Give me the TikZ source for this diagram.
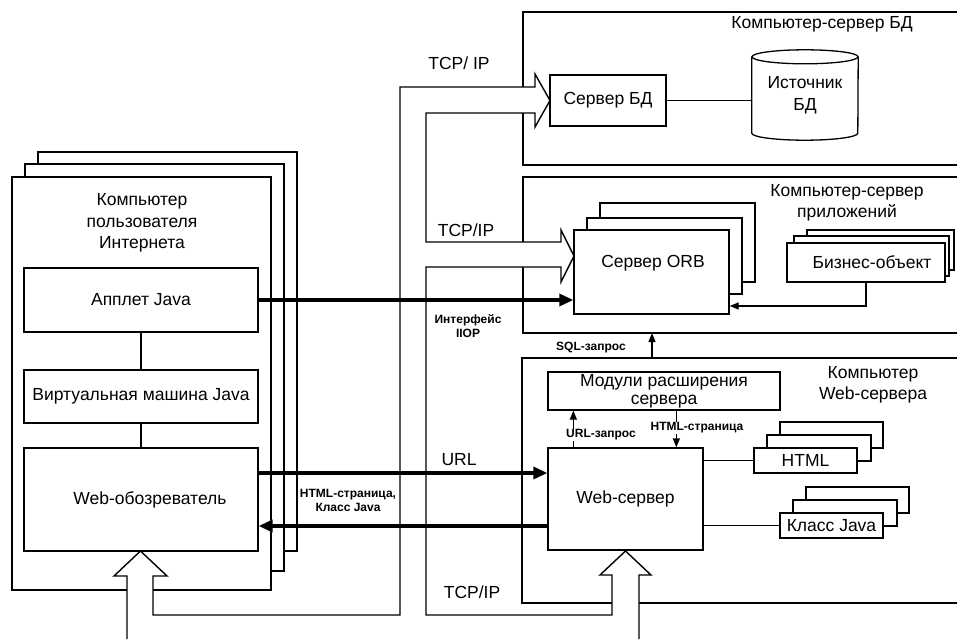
\documentclass[tikz,border=0pt]{standalone}
\usepackage{fontspec}
\setmainfont{Liberation Sans}
\usetikzlibrary{arrows.meta,calc}

\newcommand{\mainsz}{\fontsize{17.5}{21.5}\selectfont}
\newcommand{\smallsz}{\bfseries\fontsize{12}{14}\selectfont}

% rectangle node given by its corners: [options]{x1}{y1}{x2}{y2}{name} {text};
\newcommand{\pixbox}[6][]{%
  \node[rbox,#1,minimum width={(#4-#2)*1pt},minimum height={(#5-#3)*1pt}]
    (#6) at ({(#2+#4)/2},{(#3+#5)/2})}

% the TCP/IP network channel with its hollow arrow ends
\newcommand{\pipepath}{(127,639) -- (127,576) -- (114,576) -- (140.5,551) -- (167,576)
  -- (153,576) -- (153,615) -- (400,615) -- (400,87) -- (535,87) -- (535,74)
  -- (550,100.5) -- (535,127) -- (535,113) -- (426,113) -- (426,242) -- (561,242)
  -- (561,230) -- (574,256) -- (561,282) -- (561,267) -- (426,267) -- (426,615)
  -- (612,615) -- (612,575) -- (600,575) -- (625.5,551) -- (651,575) -- (639,575)
  -- (639,639)}

\begin{document}
\begin{tikzpicture}[x=1pt,y=-1pt,
  rbox/.style={draw, fill=white, line width=1.3pt, inner sep=0pt, align=center, font=\mainsz},
  wall/.style={line width=1.4pt, line join=miter},
  thickarrow/.style={line width=3.2pt, -{Triangle[length=14pt,width=12pt]}},
  thinarrow/.style={line width=1.3pt, -{Triangle[length=9pt,width=7pt]}},
  link/.style={line width=1.3pt},
  lbl/.style={font=\mainsz, align=center, inner sep=0pt},
  small/.style={font=\smallsz, align=center, inner sep=0pt}]

\useasboundingbox (0,0) rectangle (957,639);

% server computers (open towards the right margin)
\draw[link] (957,12) -- (523,12) -- (523,165) -- (957,165);
\draw[link] (957,177) -- (523,177) -- (523,333) -- (957,333);
\draw[link] (957,358) -- (522,358) -- (522,603) -- (957,603);

\node[lbl] (dbtitle) at (822,24) {Компьютер-сервер БД};
\node[lbl] (apptitle) at (847,203) {Компьютер-сервер\\приложений};
\node[lbl] (webtitle) at (873,385) {Компьютер\\Web-сервера};

% user computers
\draw[rbox] (38,152) rectangle (297,551);
\draw[rbox] (25,164) rectangle (284,571);
\pixbox{12}{177}{271}{590}{client} {};
\node[lbl] (clienttitle) at (142,223) {Компьютер\\пользователя\\Интернета};
\pixbox{24}{268}{258}{332}{applet} {Апплет Java};
\pixbox{24}{370}{258}{423}{jvm} {Виртуальная машина Java};
\pixbox{24}{448}{258}{551}{browser} {\hspace*{18pt}Web-обозреватель};
\draw[link] (applet.south) -- (jvm.north);
\draw[link] (jvm.south) -- (browser.north);

% database server
\pixbox{550}{75}{666}{126}{dbsrv} {Сервер БД};
\node[lbl, minimum width=106pt, minimum height=76pt] (dbsrc) at (805,95) {Источник\\БД};
\draw[link] (dbsrc.north west) -- (dbsrc.south west)
  arc[start angle=180, end angle=0, x radius=53, y radius=7] -- (dbsrc.north east);
\draw[link] (dbsrc.north) ellipse[x radius=53, y radius=7];
\draw[link] (dbsrv.east) -- (dbsrv.east -| dbsrc.west);

% application server
\draw[rbox] (600,203) rectangle (755,282);
\draw[rbox] (587,218) rectangle (742,294);
\pixbox{574}{230}{729}{314}{orb} {};
\node[lbl] (orbtext) at (653,263) {Сервер ORB};
\draw[rbox] (807,230) rectangle (954,270);
\draw[rbox] (794,236) rectangle (949,276);
\pixbox{787}{243}{945}{282}{bizobj} {\hspace*{12pt}Бизнес-объект};
\draw[thinarrow] (bizobj.south) |- ([yshift=-34pt]orb.east);

% web server
\pixbox[font=\fontsize{17.5}{18}\selectfont]{548}{372}{780}{410}{modules} {Модули расширения\\сервера};
\pixbox{548}{448}{703}{550}{websrv} {Web-сервер};
\draw[rbox] (780,422) rectangle (883,448);
\draw[rbox] (767,435) rectangle (871,461);
\pixbox{754}{448}{857}{473}{html} {HTML};
\draw[rbox] (806,487) rectangle (909,513);
\draw[rbox] (793,500) rectangle (897,526);
\pixbox{780}{513}{883}{538}{jclass} {Класс Java};
\draw[link] (websrv.east |- html.west) -- (html.west);
\draw[link] (websrv.east |- jclass.west) -- (jclass.west);

\draw[thinarrow] ([xshift=26pt]websrv.north west) -- ([xshift=26pt]websrv.north west |- modules.south);
\node[small, fill=white, inner sep=1pt] (urlreq) at (601,435) {URL-запрос};
\draw[thinarrow] ([xshift=129pt]websrv.north west |- modules.south) -- ([xshift=129pt]websrv.north west);
\node[small, fill=white, inner sep=1pt] (htmlresp) at (697,428) {HTML-страница};

\coordinate (webroof) at (652,358);
\coordinate (appfloor) at (652,333);
\draw[thinarrow] (webroof) -- (appfloor);
\node[small] (sqllbl) at (591,348) {SQL-запрос};

% network channel
\fill[white] \pipepath -- cycle;
\draw[wall] \pipepath;

% request / response flows
\draw[thickarrow] (applet.east) -- (applet.east -| orb.west);
\draw[thickarrow] ([yshift=26.5pt]browser.east) -- ([yshift=26.5pt]browser.east -| websrv.west);
\draw[thickarrow] ([yshift=-26.5pt]browser.east -| websrv.west) -- ([yshift=-26.5pt]browser.east);

\node[lbl] (tcp1) at (459,63) {TCP/ IP};
\node[lbl] (tcp2) at (466,230) {TCP/IP};
\node[lbl] (tcp3) at (472,592) {TCP/IP};
\node[lbl] (urllbl) at (459,460) {URL};
\node[small] (iiop) at (468,326) {Интерфейс\\IIOP};
\node[small] (resp) at (348,500) {HTML-страница,\\Класс Java};
\end{tikzpicture}
\end{document}
